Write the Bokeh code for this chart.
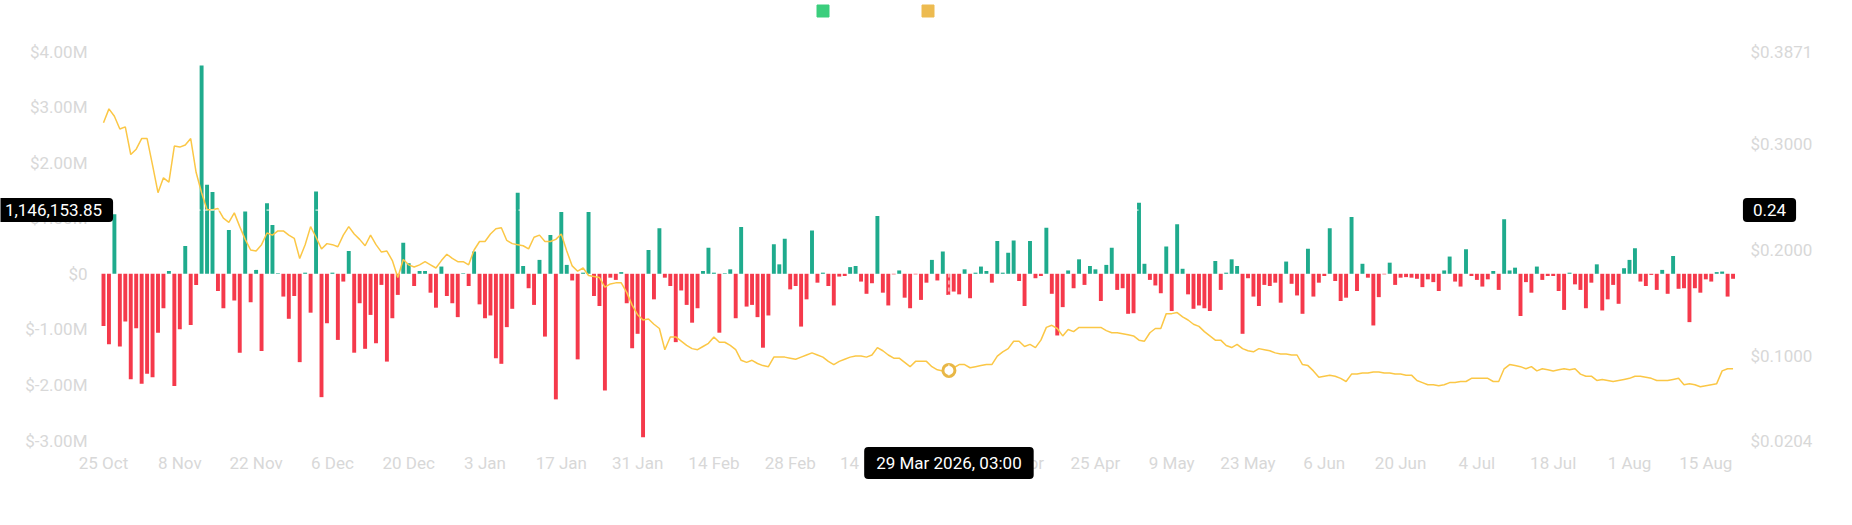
import pandas as pd
from bokeh.plotting import figure
from bokeh.models import (ColumnDataSource, Range1d, Span, Label, Legend, LegendItem)
from bokeh.embed import file_html
from bokeh.resources import INLINE
from bokeh.core.properties import value

# ---------------- data ----------------
start_date = "2025-10-25"

# daily net flow, millions of USD
flow_m = [
    -0.94, -1.27, 1.07, -1.31, -0.86, -1.90, -0.98, -1.98, -1.80, -1.86,
    -1.06, -0.62, 0.05, -2.02, -1.00, 0.50, -0.92, -0.20, 3.75, 1.60,
    1.47, -0.31, -0.62, 0.79, -0.48, -1.42, 1.12, -0.51, 0.07, -1.39,
    1.27, 0.88, 0.01, -0.41, -0.81, -0.40, -1.59, 0.02, -0.70, 1.48,
    -2.22, -0.89, 0.02, -1.19, -0.14, 0.41, -1.42, -0.53, -1.35, -0.74,
    -1.25, -0.20, -1.58, -0.80, -0.38, 0.56, 0.19, -0.22, 0.05, 0.05,
    -0.34, -0.61, 0.13, -0.40, -0.53, -0.78, 0.01, -0.22, 0.40, -0.55,
    -0.80, -0.75, -1.52, -1.62, -0.96, -0.63, 1.46, 0.14, -0.26, -0.56,
    0.25, -1.13, 0.70, -2.26, 1.11, 0.16, -0.12, -1.54, 0.02, 1.11,
    -0.40, -0.58, -2.10, -0.07, -0.11, 0.03, -0.53, -1.34, -1.08, -2.94,
    0.43, -0.46, 0.82, -0.07, -0.22, -1.23, -0.30, -0.56, -0.88, -0.62,
    0.05, 0.47, 0.02, -1.06, 0.01, 0.08, -0.80, 0.84, -0.59, -0.56,
    -0.78, -1.33, -0.75, 0.53, 0.17, 0.63, -0.28, -0.22, -0.95, -0.46,
    0.78, -0.16, 0.02, -0.22, -0.57, -0.05, -0.04, 0.12, 0.14, -0.14,
    -0.36, -0.17, 1.04, -0.34, -0.57, -0.01, 0.06, -0.43, -0.62, -0.01,
    -0.47, -0.16, 0.25, -0.12, 0.40, -0.38, -0.32, -0.37, 0.08, -0.44,
    0.02, 0.13, 0.05, -0.16, 0.59, 0.02, 0.38, 0.60, -0.13, -0.58,
    0.59, -0.08, -0.04, 0.83, -0.36, -1.11, -0.60, 0.06, -0.26, 0.26,
    -0.20, 0.14, 0.08, -0.49, 0.16, 0.47, -0.29, -0.26, -0.72, -0.71,
    1.28, 0.18, -0.11, -0.21, -0.35, 0.49, -0.67, 0.89, 0.09, -0.37,
    -0.63, -0.57, -0.62, -0.67, 0.23, -0.29, 0.02, 0.26, 0.14, -1.08,
    -0.08, -0.41, -0.58, -0.20, -0.22, -0.16, -0.52, 0.22, -0.18, -0.39,
    -0.72, 0.45, -0.41, -0.16, -0.04, 0.82, -0.13, -0.49, -0.43, 1.02,
    -0.31, 0.18, -0.07, -0.93, -0.42, -0.01, 0.20, -0.20, -0.07, -0.06,
    -0.07, -0.09, -0.24, -0.10, -0.15, -0.31, 0.06, 0.31, -0.14, -0.23,
    0.44, -0.04, -0.11, -0.23, -0.10, 0.05, -0.29, 0.98, 0.06, 0.11,
    -0.76, -0.15, -0.34, 0.13, -0.11, -0.04, -0.04, -0.31, -0.65, 0.02,
    -0.19, -0.29, -0.62, -0.16, 0.17, -0.66, -0.46, -0.20, -0.54, 0.10,
    0.25, 0.46, -0.14, -0.22, -0.02, -0.29, 0.07, -0.36, 0.32, -0.27,
    -0.26, -0.87, -0.26, -0.34, -0.10, -0.14, 0.03, 0.04, -0.41, -0.09,
]

# daily price, USD
price = [
    0.320, 0.333, 0.326, 0.314, 0.316, 0.290, 0.295, 0.305, 0.305, 0.280,
    0.254, 0.268, 0.264, 0.298, 0.297, 0.299, 0.305, 0.273, 0.254, 0.238,
    0.238, 0.239, 0.230, 0.226, 0.235, 0.222, 0.210, 0.200, 0.199, 0.205,
    0.216, 0.214, 0.218, 0.218, 0.214, 0.211, 0.192, 0.205, 0.222, 0.212,
    0.201, 0.206, 0.205, 0.203, 0.214, 0.222, 0.215, 0.210, 0.204, 0.214,
    0.205, 0.198, 0.199, 0.190, 0.174, 0.191, 0.186, 0.184, 0.186, 0.189,
    0.186, 0.183, 0.190, 0.196, 0.192, 0.189, 0.189, 0.186, 0.200, 0.208,
    0.208, 0.215, 0.220, 0.221, 0.209, 0.206, 0.205, 0.204, 0.201, 0.212,
    0.214, 0.208, 0.208, 0.210, 0.215, 0.199, 0.185, 0.180, 0.183, 0.176,
    0.175, 0.174, 0.165, 0.168, 0.169, 0.169, 0.160, 0.148, 0.139, 0.134,
    0.135, 0.130, 0.126, 0.106, 0.118, 0.118, 0.114, 0.110, 0.107, 0.106,
    0.109, 0.112, 0.118, 0.113, 0.113, 0.110, 0.106, 0.096, 0.094, 0.096,
    0.093, 0.091, 0.090, 0.099, 0.099, 0.099, 0.098, 0.097, 0.099, 0.101,
    0.103, 0.101, 0.099, 0.095, 0.092, 0.095, 0.097, 0.099, 0.100, 0.100,
    0.099, 0.101, 0.108, 0.105, 0.101, 0.098, 0.098, 0.094, 0.090, 0.095,
    0.095, 0.095, 0.090, 0.087, 0.086, 0.086, 0.089, 0.092, 0.092, 0.089,
    0.090, 0.091, 0.092, 0.092, 0.100, 0.104, 0.107, 0.114, 0.114, 0.109,
    0.111, 0.108, 0.115, 0.127, 0.129, 0.126, 0.119, 0.125, 0.123, 0.127,
    0.127, 0.127, 0.127, 0.127, 0.124, 0.122, 0.122, 0.121, 0.120, 0.119,
    0.115, 0.114, 0.122, 0.126, 0.126, 0.140, 0.140, 0.141, 0.137, 0.134,
    0.130, 0.128, 0.123, 0.119, 0.115, 0.115, 0.110, 0.108, 0.111, 0.107,
    0.105, 0.104, 0.107, 0.106, 0.105, 0.103, 0.102, 0.102, 0.101, 0.101,
    0.092, 0.091, 0.086, 0.080, 0.081, 0.082, 0.081, 0.079, 0.076, 0.083,
    0.083, 0.084, 0.084, 0.085, 0.085, 0.084, 0.084, 0.083, 0.083, 0.082,
    0.082, 0.077, 0.075, 0.073, 0.073, 0.072, 0.073, 0.075, 0.075, 0.076,
    0.076, 0.079, 0.079, 0.079, 0.079, 0.076, 0.076, 0.088, 0.092, 0.091,
    0.090, 0.088, 0.090, 0.086, 0.088, 0.087, 0.086, 0.087, 0.088, 0.087,
    0.088, 0.083, 0.081, 0.081, 0.077, 0.078, 0.077, 0.076, 0.077, 0.078,
    0.079, 0.081, 0.081, 0.080, 0.079, 0.077, 0.077, 0.077, 0.078, 0.079,
    0.073, 0.074, 0.073, 0.071, 0.072, 0.073, 0.074, 0.086, 0.088, 0.088,
]

x_tick_dates = ["2025-10-25", "2025-11-08", "2025-11-22", "2025-12-06",
                "2025-12-20", "2026-01-03", "2026-01-17", "2026-01-31",
                "2026-02-14", "2026-02-28", "2026-03-14", "2026-03-28",
                "2026-04-11", "2026-04-25", "2026-05-09", "2026-05-23",
                "2026-06-06", "2026-06-20", "2026-07-04", "2026-07-18",
                "2026-08-01", "2026-08-15"]
x_tick_labels = ["25 Oct", "8 Nov", "22 Nov", "6 Dec", "20 Dec", "3 Jan",
                 "17 Jan", "31 Jan", "14 Feb", "28 Feb", "14 Mar", "28 Mar",
                 "11 Apr", "25 Apr", "9 May", "23 May", "6 Jun", "20 Jun",
                 "4 Jul", "18 Jul", "1 Aug", "15 Aug"]

flow_ticks_m = [-3, -2, -1, 0, 1, 2, 3, 4]
flow_tick_labels = ["$-3.00M", "$-2.00M", "$-1.00M", "$0", "$1.00M",
                    "$2.00M", "$3.00M", "$4.00M"]
price_ticks = [0.0204, 0.1, 0.2, 0.3, 0.3871]
price_tick_labels = ["$0.0204", "$0.1000", "$0.2000", "$0.3000", "$0.3871"]

cursor_time = "2026-03-29 03:00"
cursor_time_label = "29 Mar 2026, 03:00"
cursor_flow = 1146153.85
cursor_flow_label = "1,146,153.85"
cursor_price_label = "0.24"
hover_price = 0.0865

# ---------------- derived ----------------
t0 = pd.Timestamp(start_date)
dates = pd.date_range(start_date, periods=len(flow_m), freq="D")
days = [float((d - t0).days) for d in dates]
tick_days = [float((pd.Timestamp(d) - t0).days) for d in x_tick_dates]
cursor_day = (pd.Timestamp(cursor_time) - t0) / pd.Timedelta(days=1)
flow = [v * 1e6 for v in flow_m]
flow_ticks = [v * 1e6 for v in flow_ticks_m]

GREEN = "#1fab8d"
RED = "#f5394b"
LINE = "#fbc746"
LABEL = "#d8d8d8"
FONT = "Roboto"

# ---------------- layout (page pixels) ----------------
W, H, M = 1836, 505, 8          # figure size, page margin
DAY0_X = 111.0                  # page x of first day
PPD = 5.45                      # pixels per day
TOP_Y, BOT_Y = 59.0, 448.0      # page y of axis extremes
FPP = (flow_ticks[-1] - flow_ticks[0]) / (BOT_Y - TOP_Y)     # flow per px
PPP = (price_ticks[-1] - price_ticks[0]) / (BOT_Y - TOP_Y)   # price per px


def xd(px):          # page x -> day
    return (px - DAY0_X) / PPD


def yf(py):          # page y -> flow
    return flow_ticks[-1] - (py - TOP_Y) * FPP


x_range = Range1d(xd(M), xd(M + W))
y_range = Range1d(yf(M + H), yf(M))
price_range = Range1d(price_ticks[0] - (M + H - BOT_Y) * PPP,
                      price_ticks[-1] + (TOP_Y - M) * PPP)

p = figure(width=W, height=H, x_range=x_range, y_range=y_range,
           x_axis_type=None, y_axis_type=None,
           output_backend="svg", toolbar_location=None, min_border=0,
           background_fill_color="white", border_fill_color="white",
           outline_line_color=None)
p.extra_y_ranges = {"price": price_range}
p.xgrid.visible = False
p.ygrid.visible = False

tick_style = dict(text_font=value(FONT), text_font_size=value("17px"),
                  text_color=LABEL, text_baseline="middle")

# left (flow) tick labels
p.text(x=[xd(95)] * len(flow_ticks), y=flow_ticks, text=flow_tick_labels,
       text_align="right", **tick_style)
# right (price) tick labels
p.text(x=[xd(1758)] * len(price_ticks), y=price_ticks, text=price_tick_labels,
       text_align="left", y_range_name="price", **tick_style)
# bottom (date) tick labels
p.text(x=tick_days, y=[yf(470.5)] * len(tick_days), text=x_tick_labels,
       text_align="center", **tick_style)

# bars
src = ColumnDataSource(dict(day=days, flow=flow,
                            color=[GREEN if v >= 0 else RED for v in flow]))
p.vbar(x="day", top="flow", bottom=0, width=0.72, fill_color="color",
       line_color=None, source=src)

# price line
p.line(days, price, y_range_name="price", line_color=LINE, line_width=1.5)

# crosshair (white, visible only over bars)
p.add_layout(Span(location=cursor_day, dimension="height", line_color="white",
                  line_width=1, line_dash="4 3"))
p.add_layout(Span(location=cursor_flow, dimension="width", line_color="white",
                  line_width=1, line_dash="4 3"))

p.scatter([cursor_day], [hover_price], y_range_name="price", size=12,
          fill_color="white", line_color="#e8b746", line_width=3)

# legend (colour swatches only); renderers hold a single NaN so nothing is drawn
nan = float("nan")
rg = p.vbar(x=[nan], top=[nan], width=0.7, fill_color="#3bce7d",
            line_color="#3bce7d")
ry = p.vbar(x=[nan], top=[nan], width=0.7, fill_color="#edbb50",
            line_color="#edbb50")
legend = Legend(items=[LegendItem(label=value(" "), renderers=[rg]),
                       LegendItem(label=value(" "), renderers=[ry])],
                orientation="horizontal", location=(823 - M, H - (11 - M) - 15),
                glyph_width=15, glyph_height=15, label_standoff=0,
                label_width=0, label_height=15, label_text_font_size="1px",
                spacing=90, padding=0, margin=0, border_line_color=None,
                background_fill_alpha=0)
p.add_layout(legend, "center")

# crosshair readouts
box = dict(text_color="white", text_font=FONT, text_font_size="17px",
           text_align="center", text_baseline="middle",
           background_fill_color="black", background_fill_alpha=1.0,
           border_radius=4)
p.add_layout(Label(x=xd(61), y=cursor_flow, text=cursor_flow_label,
                   padding=dict(left=11, right=11, top=6, bottom=6), **box))
p.add_layout(Label(x=xd(1777), y=cursor_flow, text=cursor_price_label,
                   padding=dict(left=10, right=10, top=6, bottom=6), **box))
p.add_layout(Label(x=cursor_day, y=yf(470.5), text=cursor_time_label,
                   padding=dict(left=12, right=12, top=6, bottom=6), **box))

open("out.html", "w").write(file_html(p, INLINE))
